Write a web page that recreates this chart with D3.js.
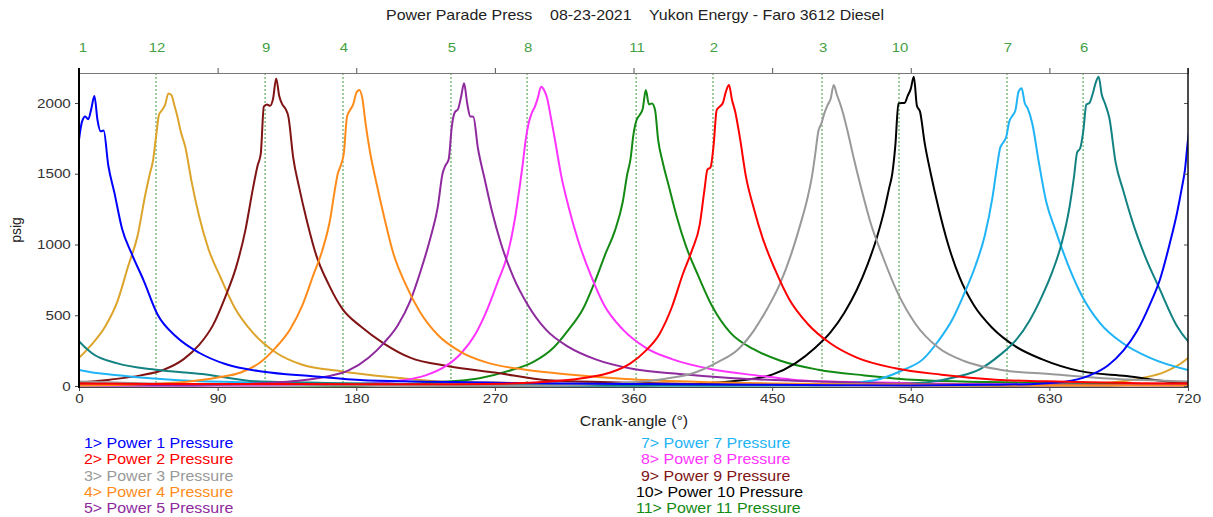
<!DOCTYPE html>
<html>
<head>
<meta charset="utf-8">
<script src="https://cdn.jsdelivr.net/npm/d3@7"></script>
<style>
  body { margin: 0; background: #fff; }
  text { font-family: "Liberation Sans", Arial, sans-serif; }
</style>
</head>
<body>
<svg id="chart" width="1213" height="517"></svg>
<script>
// crank angle offsets from each cylinder's TDC at which the traces were read
const offsets = [-180, -130, -100, -80, -65, -52, -42, -33, -25, -18, -12, -7, -4, -2, 0, 2, 4, 6, 8, 10,
                 12, 14, 16, 19, 23, 28, 34, 42, 51, 63, 78, 95, 120, 150, 185, 230, 280, 360, 450, 540];

// psig per cylinder at those offsets
const p1  = [3,8,15,30,70,145,250,390,570,760,1000,1230,1400,1526,1740,1870,1905,1885,1960,2050,1880,1800,1805,1560,1365,1110,940,745,505,350,235,155,100,70,40,30,22,14,8,3];
const p2  = [12,18,35,60,95,160,250,370,560,790,960,1140,1380,1530,1545,1700,1950,1975,2000,2080,2127,2020,1940,1760,1480,1260,1040,820,615,440,300,200,125,80,45,30,20,15,14,12];
const p3  = [3,20,50,95,170,260,390,550,720,920,1130,1330,1490,1640,1800,1856,1930,1985,2030,2127,2060,2000,1930,1800,1610,1390,1150,910,670,440,270,175,112,85,55,35,20,10,5,3];
const p4  = [3,12,30,60,95,170,275,400,570,780,960,1175,1380,1500,1560,1650,1905,1950,1990,2070,2092,2030,1860,1650,1440,1200,940,720,530,360,240,165,115,80,50,30,18,10,5,3];
const p5  = [3,15,35,65,110,200,305,430,600,820,1040,1270,1500,1560,1600,1830,1935,1955,2040,2139,2000,1905,1903,1680,1480,1240,1005,770,580,400,275,190,120,85,55,35,20,10,5,3];
const p6  = [3,10,25,65,120,220,320,460,630,810,1010,1260,1480,1650,1680,1800,1990,2000,2060,2140,2186,2060,2000,1890,1580,1380,1160,920,700,420,235,160,115,85,33,22,15,8,4,3];
const p7  = [3,8,20,50,113,190,320,470,660,850,1060,1330,1550,1680,1720,1762,1870,1910,1950,2080,2104,2000,1960,1850,1590,1300,1100,860,640,443,300,200,113,70,40,25,15,8,4,3];
const p8  = [3,10,20,40,75,140,230,360,540,740,920,1180,1400,1560,1740,1860,1930,1975,2040,2115,2090,2030,1920,1740,1490,1260,1030,790,570,400,270,190,120,75,35,25,15,8,4,3];
const p9  = [3,18,45,75,115,190,290,430,630,840,1100,1400,1560,1640,1975,1990,1980,2030,2174,2050,1990,1960,1900,1620,1400,1165,925,720,545,420,300,200,140,95,40,25,15,9,5,3];
const p10 = [3,15,40,80,160,270,380,520,680,860,1050,1250,1400,1500,1700,1997,2000,2000,2050,2100,2186,1980,1940,1720,1500,1260,1010,760,570,410,280,190,105,70,25,15,10,6,4,3];
const p11 = [3,25,55,110,170,270,400,540,740,940,1100,1300,1500,1600,1780,1880,1915,1960,2092,1990,1997,1950,1740,1580,1410,1200,990,780,565,375,260,180,115,75,42,28,18,10,5,3];
const p12 = [3,10,25,55,100,180,290,420,600,850,1060,1350,1500,1590,1760,1920,1950,1990,2068,2056,1980,1900,1800,1690,1450,1200,970,765,555,375,235,150,105,65,32,22,15,9,5,3];

const cylinders = [1, 2, 3, 4, 5, 6, 7, 8, 9, 10, 11, 12];
const tdc       = [0, 410, 480, 170, 240, 650, 600, 290, 120, 530, 360, 50];
const colors    = ["#0000ff", "#ff0000", "#999999", "#ff8c1a", "#8e2a9e", "#138282",
                   "#1eb4f5", "#ff33ff", "#801414", "#000000", "#138a13", "#dca42a"];
const traces    = [p1, p2, p3, p4, p5, p6, p7, p8, p9, p10, p11, p12];

// firing order markers along the top
const markerLabels = ["1", "12", "9", "4", "5", "8", "11", "2", "3", "10", "7", "6"];
const markerAngles = [0, 50, 120.8, 171.4, 241.5, 290.9, 361.7, 411.6, 482.4, 532.4, 602.5, 651.9];

const xTicks = [0, 90, 180, 270, 360, 450, 540, 630, 720];
const yTicks = [0, 500, 1000, 1500, 2000];

const legendLeft  = [1, 2, 3, 4, 5];
const legendRight = [7, 8, 9, 10, 11];

const svg = d3.select("#chart");
const plot = {left: 79, right: 1188, top: 73, bottom: 386};

const x = d3.scaleLinear().domain([0, 720]).range([plot.left, plot.right]);
const y = d3.scaleLinear().domain([0, 2212]).range([plot.bottom, plot.top]);

const sx = 1.14; // the original text is a little wide

// title
svg.append("text")
    .attr("transform", `translate(635,20) scale(${sx},1)`)
    .attr("text-anchor", "middle")
    .style("white-space", "pre")
    .attr("font-size", 14)
    .attr("fill", "#222")
    .text("Power Parade Press    08-23-2021    Yukon Energy - Faro 3612 Diesel");

// clip for the traces
svg.append("clipPath").attr("id", "clip")
    .append("rect")
    .attr("x", plot.left).attr("y", plot.top)
    .attr("width", plot.right - plot.left).attr("height", plot.bottom - plot.top + 2);

// firing markers (dotted)
svg.append("g").selectAll("line")
    .data(markerAngles.slice(1))
    .enter().append("line")
    .attr("x1", d => x(d)).attr("x2", d => x(d))
    .attr("y1", plot.top).attr("y2", plot.bottom)
    .attr("stroke", "#3a9a3a")
    .attr("stroke-width", 1)
    .attr("stroke-dasharray", "2,2");

svg.append("g").selectAll("text")
    .data(markerLabels)
    .enter().append("text")
    .attr("transform", (d, i) => `translate(${x(markerAngles[i]) + (i === 0 ? 4 : 1)},52) scale(1.15,1)`)
    .attr("text-anchor", "middle")
    .attr("font-size", 13)
    .attr("fill", "#44a044")
    .text(d => d);

// traces
const line = d3.line()
    .x(d => x(d[0]))
    .y(d => y(d[1]))
    .curve(d3.curveMonotoneX);

const traceG = svg.append("g").attr("clip-path", "url(#clip)");
const drawOrder = [11, 10, 9, 8, 7, 6, 5, 4, 3, 2, 0, 1];
drawOrder.forEach(k => {
    const pts = offsets.map((o, i) => [tdc[k] + o, traces[k][i]]);
    [-720, 0, 720].forEach(shift => {
        traceG.append("path")
            .datum(pts.map(p => [p[0] + shift, p[1]]))
            .attr("d", line)
            .attr("fill", "none")
            .attr("stroke", colors[k])
            .attr("stroke-width", 2)
            .attr("stroke-linejoin", "round");
    });
});

// top axis
const topAxis = svg.append("g")
    .attr("transform", `translate(0,${plot.top})`)
    .call(d3.axisTop(x).tickValues(xTicks.slice(1, -1)).tickSize(5).tickFormat(""));
topAxis.select(".domain").attr("stroke", "#777");
topAxis.selectAll(".tick line").attr("stroke", "#555");

// right axis
const rightAxis = svg.append("g")
    .attr("transform", `translate(${plot.right},0)`)
    .call(d3.axisLeft(y).tickValues(yTicks).tickSize(4).tickFormat(""));
rightAxis.select(".domain").remove();
rightAxis.selectAll(".tick line").attr("stroke", "#555");
svg.append("line")
    .attr("x1", plot.right).attr("x2", plot.right)
    .attr("y1", plot.top - 5).attr("y2", plot.bottom + 2)
    .attr("stroke", "#111").attr("stroke-width", 1.5);

// bottom axis
const bottomAxis = svg.append("g")
    .attr("transform", `translate(0,${plot.bottom + 1})`)
    .call(d3.axisBottom(x).tickValues(xTicks).tickSize(4).tickPadding(3).tickFormat(d3.format("d")));
bottomAxis.select(".domain").attr("stroke", "#444");
bottomAxis.selectAll(".tick line").attr("stroke", "#444");
bottomAxis.selectAll(".tick text")
    .attr("font-size", 13)
    .attr("fill", "#333")
    .attr("font-family", '"Liberation Sans", Arial, sans-serif')
    .attr("transform", "scale(1.17,1)");

// left axis
const leftAxis = svg.append("g")
    .attr("transform", `translate(${plot.left},0)`)
    .call(d3.axisLeft(y).tickValues(yTicks).tickSize(4).tickPadding(3).tickFormat(d3.format("d")));
leftAxis.select(".domain").remove();
leftAxis.selectAll(".tick line").attr("stroke", "#444");
leftAxis.selectAll(".tick text")
    .attr("font-size", 13)
    .attr("fill", "#333")
    .attr("font-family", '"Liberation Sans", Arial, sans-serif')
    .attr("transform", "scale(1.17,1)");
svg.append("line")
    .attr("x1", plot.left).attr("x2", plot.left)
    .attr("y1", plot.top - 5).attr("y2", plot.bottom + 2)
    .attr("stroke", "#000").attr("stroke-width", 2);

// axis titles
svg.append("text")
    .attr("transform", `translate(634,426) scale(${sx},1)`)
    .attr("text-anchor", "middle")
    .attr("font-size", 14)
    .attr("fill", "#222")
    .text("Crank-angle (°)");

svg.append("text")
    .attr("transform", "translate(21,230) rotate(-90)")
    .attr("text-anchor", "middle")
    .attr("font-size", 14)
    .attr("fill", "#222")
    .text("psig");

// legend
function legendColumn(list, x0) {
    svg.append("g").selectAll("text")
        .data(list)
        .enter().append("text")
        .attr("transform", (d, i) => `translate(${x0 - (d > 9 ? 5 : 0)},${448 + i * 16.3}) scale(${sx},1)`)
        .attr("font-size", 14)
        .attr("fill", d => colors[cylinders.indexOf(d)])
        .text(d => `${d}> Power ${d} Pressure`);
}
legendColumn(legendLeft, 84);
legendColumn(legendRight, 641);
</script>
</body>
</html>
